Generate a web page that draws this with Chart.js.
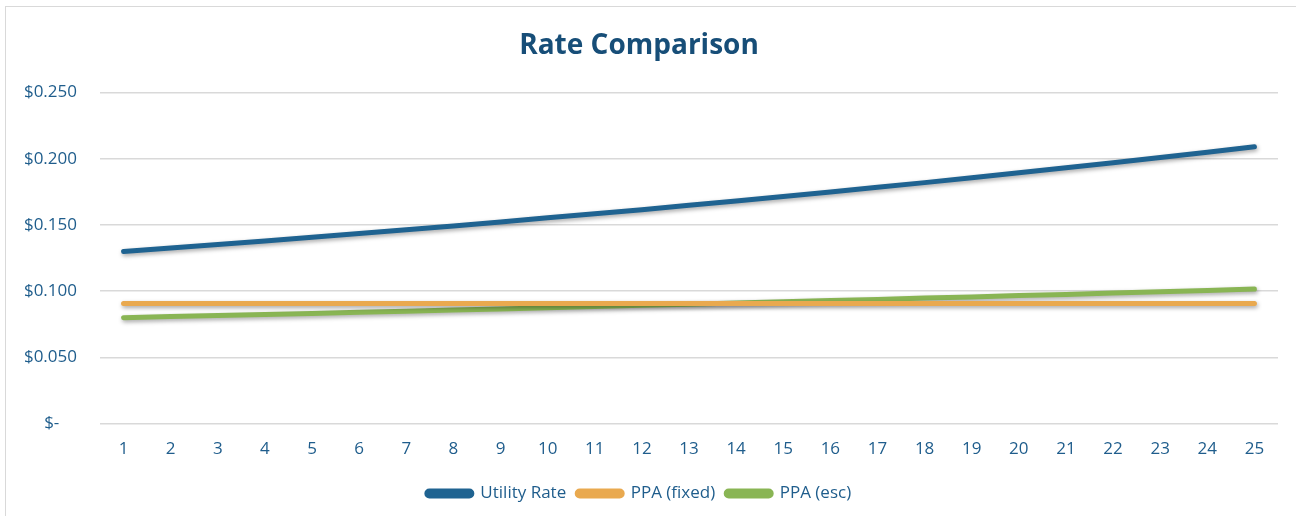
<!DOCTYPE html>
<html>
<head>
<meta charset="utf-8">
<script src="https://cdn.jsdelivr.net/npm/chart.js@4.4.1/dist/chart.umd.min.js"></script>
<style>
  html, body { margin: 0; padding: 0; background: #fff; }
  #frame {
    position: absolute; left: 5px; top: 6px; width: 1320px; height: 540px;
    border: 1.5px solid #d9d9d9;
  }
  #wrap { position: absolute; left: 0; top: 0; width: 1296px; height: 516px; }
</style>
</head>
<body>
<div id="frame"></div>
<div id="wrap"><canvas id="chart" width="1296" height="516"></canvas></div>
<script>
// years of the contract
const years = ["1", "2", "3", "4", "5", "6", "7", "8", "9", "10", "11", "12", "13",
  "14", "15", "16", "17", "18", "19", "20", "21", "22", "23", "24", "25"];

// $/kWh
const utilityRate = [0.1300, 0.1326, 0.1353, 0.1380, 0.1407, 0.1435, 0.1464, 0.1493, 0.1523, 0.1554,
  0.1585, 0.1616, 0.1649, 0.1682, 0.1715, 0.1750, 0.1785, 0.1820, 0.1857, 0.1894,
  0.1932, 0.1970, 0.2010, 0.2050, 0.2091];
const ppaFixed = [0.0908, 0.0908, 0.0908, 0.0908, 0.0908, 0.0908, 0.0908, 0.0908, 0.0908, 0.0908,
  0.0908, 0.0908, 0.0908, 0.0908, 0.0908, 0.0908, 0.0908, 0.0908, 0.0908, 0.0908,
  0.0908, 0.0908, 0.0908, 0.0908, 0.0908];
const ppaEsc = [0.0800, 0.0808, 0.0816, 0.0824, 0.0832, 0.0841, 0.0849, 0.0858, 0.0866, 0.0875,
  0.0884, 0.0893, 0.0902, 0.0911, 0.0920, 0.0929, 0.0938, 0.0948, 0.0957, 0.0967,
  0.0976, 0.0986, 0.0996, 0.1006, 0.1016];

const yTicks = [0, 0.05, 0.1, 0.15, 0.2, 0.25];

const textBlue = "#1f5d8c";
const fontFamily = "'Open Sans', 'Noto Sans', sans-serif";

// soft drop shadow under each line, like the spreadsheet version
const lineShadow = {
  id: "lineShadow",
  beforeDatasetDraw(chart) {
    const ctx = chart.ctx;
    ctx.save();
    ctx.shadowColor = "rgba(0, 0, 0, 0.35)";
    ctx.shadowBlur = 4;
    ctx.shadowOffsetX = 1;
    ctx.shadowOffsetY = 2;
  },
  afterDatasetDraw(chart) {
    chart.ctx.restore();
  }
};

const makeSeries = (label, values, color) => ({
  label: label,
  data: values,
  borderColor: color,
  backgroundColor: color,
  borderWidth: 5,
  borderCapStyle: "round",
  borderJoinStyle: "round",
  pointRadius: 0,
  pointHoverRadius: 0,
  tension: 0,
  fill: false
});

new Chart(document.getElementById("chart").getContext("2d"), {
  type: "line",
  data: {
    labels: years,
    datasets: [
      makeSeries("Utility Rate", utilityRate, "#1f6391"),
      makeSeries("PPA (fixed)", ppaFixed, "#e9a94f"),
      makeSeries("PPA (esc)", ppaEsc, "#89b554")
    ]
  },
  plugins: [lineShadow],
  options: {
    responsive: false,
    animation: false,
    layout: { padding: { left: 0, right: 18, top: 0, bottom: 4 } },
    plugins: {
      title: {
        display: true,
        text: "Rate Comparison",
        color: "#174e78",
        font: { family: fontFamily, size: 28, weight: "bold" },
        padding: { top: 29, bottom: 30 }
      },
      legend: {
        display: true,
        position: "bottom",
        labels: {
          color: textBlue,
          font: { family: fontFamily, size: 17 },
          boxWidth: 45,
          boxHeight: 5,
          useBorderRadius: true,
          borderRadius: 2.5,
          padding: 11
        }
      },
      tooltip: { enabled: false }
    },
    scales: {
      x: {
        offset: true,
        grid: { display: false, drawTicks: false },
        border: { display: false },
        ticks: {
          color: textBlue,
          font: { family: fontFamily, size: 17 },
          padding: 15,
          maxRotation: 0,
          autoSkip: false
        }
      },
      y: {
        min: 0,
        max: 0.25,
        afterBuildTicks: (axis) => { axis.ticks = yTicks.map((v) => ({ value: v })); },
        afterFit: (axis) => { axis.width = 100; },
        grid: { color: "#d9d9d9", lineWidth: 1.5, drawTicks: false },
        border: { display: false },
        ticks: {
          color: textBlue,
          font: { family: fontFamily, size: 17 },
          padding: 23,
          callback: (v) => (v === 0 ? "$-    " : "$" + v.toFixed(3))
        }
      }
    }
  }
});
</script>
</body>
</html>
